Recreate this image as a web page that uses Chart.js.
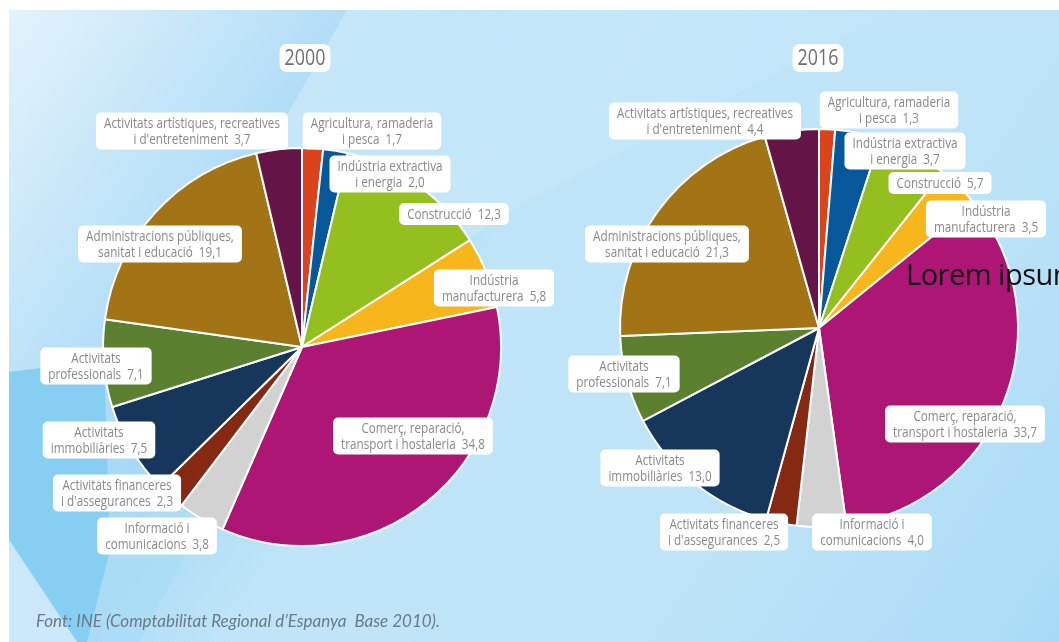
<!DOCTYPE html>
<html>
<head>
<meta charset="utf-8">
<script src="https://cdn.jsdelivr.net/npm/chart.js@4.4.1/dist/chart.umd.min.js"></script>
<style>
  html, body { margin: 0; padding: 0; }
  body { width: 1059px; height: 642px; overflow: hidden; background: #fff; position: relative; }
  #panel { position: absolute; left: 9px; top: 10px; right: 0; bottom: 0; overflow: hidden;
    background: linear-gradient(125deg, #e3f3fc 0%, #b4def7 22%, #a6d9f5 30%, #c0e5f8 45%, #bfe4f8 70%, #a9dbf6 100%); }
  .shape { position: absolute; left: 0; top: 0; width: 1050px; height: 632px; }
  #light1 { background: linear-gradient(110deg, #cdeafa 0%, #c4e6f9 60%, #bae2f8 100%); clip-path: polygon(338px 0, 888px 0, 520px 190px, 300px 330px, 150px 330px); opacity: .85; }
  #dark1 { background: #86cff2; clip-path: polygon(0 362px, 95px 350px, 101px 540px, 78px 632px, 68px 632px, 0 530px); }
  #light2 { background: #cbe9fa; clip-path: polygon(0 530px, 68px 632px, 0 632px); }
  #mid1 { background: #aadcf6; clip-path: polygon(101px 540px, 200px 500px, 130px 632px, 78px 632px); opacity: .8; }
  canvas { position: absolute; left: 0; top: 0; }
  #lorem { position: absolute; left: 906px; top: 254px; font-family: "Open Sans", sans-serif; font-size: 29px; line-height: normal; color: #111; white-space: nowrap; letter-spacing: -0.5px; }
  #source { position: absolute; left: 36px; top: 610px; font-family: Lato, sans-serif; font-style: italic; font-size: 17px; color: #6b7a86; white-space: nowrap; }
</style>
</head>
<body>
<div id="panel">
  <div class="shape" id="light1"></div>
  <div class="shape" id="dark1"></div>
  <div class="shape" id="mid1"></div>
  <div class="shape" id="light2"></div>
</div>
<canvas id="pie2000" width="1059" height="642"></canvas>
<canvas id="pie2016" width="1059" height="642"></canvas>
<div id="lorem">Lorem ipsum</div>
<div id="source">Font: INE (Comptabilitat Regional d’Espanya&nbsp; Base 2010).</div>
<script>
// sectors, in drawing order (clockwise from 12 o'clock)
const categories = [
    'Agricultura, ramaderia i pesca', 'Indústria extractiva i energia', 'Construcció',
    'Indústria manufacturera', 'Comerç, reparació, transport i hostaleria',
    'Informació i comunicacions', 'Activitats financeres i d\'assegurances',
    'Activitats immobiliàries', 'Activitats professionals',
    'Administracions públiques, sanitat i educació', 'Activitats artístiques, recreatives i d\'entreteniment'
];
// how each label breaks into lines (value goes after the last line)
const labelLines = [
    ['Agricultura, ramaderia', 'i pesca'], ['Indústria extractiva', 'i energia'], ['Construcció'],
    ['Indústria', 'manufacturera'], ['Comerç, reparació,', 'transport i hostaleria'],
    ['Informació i', 'comunicacions'], ['Activitats financeres', 'i d\'assegurances'],
    ['Activitats', 'immobiliàries'], ['Activitats', 'professionals'],
    ['Administracions públiques,', 'sanitat i educació'], ['Activitats artístiques, recreatives', 'i d\'entreteniment']
];
const values2000 = [1.7, 2.0, 12.3, 5.8, 34.8, 3.8, 2.3, 7.5, 7.1, 19.1, 3.7];
const values2016 = [1.3, 3.7, 5.7, 3.5, 33.7, 4.0, 2.5, 13.0, 7.1, 21.3, 4.4];
const sliceColors = ['#d9441c', '#07579b', '#93c01f', '#f8b61d', '#ad1675', '#d2d2d2',
    '#852912', '#16365b', '#5a8030', '#a27415', '#641446'];

// label box centres, relative to pie centre (layout only)
const labelPos2000 = [[70, -216], [88, -173], [152, -133], [192, -59], [111, 89],
    [-145, 189], [-185, 146], [-203, 93], [-206, 19], [-142, -103], [-110, -216]];
const labelPos2016 = [[70, -218], [86, -177], [121, -145], [167, -109], [146, 96],
    [53, 204], [-95, 204], [-159, 140], [-195, 46], [-152, -84], [-114, -207]];

const fmt = v => v.toFixed(1).replace('.', ',');
const SQUEEZE = 0.78; // condensed look
const LABEL_FONT = '15px "Open Sans", sans-serif';

const roundBox = (ctx, x, y, w, h, r) => {
    ctx.beginPath();
    ctx.moveTo(x + r, y);
    ctx.arcTo(x + w, y, x + w, y + h, r);
    ctx.arcTo(x + w, y + h, x, y + h, r);
    ctx.arcTo(x, y + h, x, y, r);
    ctx.arcTo(x, y, x + w, y, r);
    ctx.closePath();
    ctx.fill();
};

const narrowText = (ctx, text, x, y, sx) => {
    ctx.save();
    ctx.translate(x, y);
    ctx.scale(sx, 1);
    ctx.fillText(text, 0, 0);
    ctx.restore();
};

// white boxes with labels + year title
const labelPlugin = {
    id: 'boxLabels',
    afterDraw(chart, args, opts) {
        const ctx = chart.ctx;
        const arc = chart.getDatasetMeta(0).data[0];
        const cx = arc.x, cy = arc.y;
        const values = chart.data.datasets[0].data;
        ctx.save();
        ctx.textAlign = 'center';
        ctx.textBaseline = 'middle';

        // title
        ctx.font = '21px "Open Sans", sans-serif';
        const tw = ctx.measureText(opts.title).width * 0.85 + 10;
        ctx.fillStyle = '#fff';
        roundBox(ctx, cx + opts.titleDx - tw / 2, cy + opts.titleDy - 14, tw, 28, 7);
        ctx.fillStyle = '#6f6f6f';
        narrowText(ctx, opts.title, cx + opts.titleDx, cy + opts.titleDy + 1, 0.85);

        ctx.font = LABEL_FONT;
        values.forEach((v, i) => {
            const lines = labelLines[i].slice();
            lines[lines.length - 1] += '  ' + fmt(v);
            const [dx, dy] = opts.pos[i];
            const w = Math.max(...lines.map(l => ctx.measureText(l).width)) * SQUEEZE + 16;
            const h = lines.length === 1 ? 22 : 37;
            const x = cx + dx, y = cy + dy;
            ctx.fillStyle = '#fff';
            roundBox(ctx, x - w / 2, y - h / 2, w, h, 5);
            ctx.fillStyle = '#898989';
            lines.forEach((l, k) => {
                narrowText(ctx, l, x, y + (k - (lines.length - 1) / 2) * 16 + 1, SQUEEZE);
            });
        });
        ctx.restore();
    }
};

const makePie = (id, values, padding, radius, title, titleDx, titleDy, pos) => {
    return new Chart(document.getElementById(id), {
        type: 'pie',
        data: {
            labels: categories,
            datasets: [{
                data: values,
                backgroundColor: sliceColors,
                borderColor: '#ffffff',
                borderWidth: 2,
                radius: radius
            }]
        },
        options: {
            responsive: false,
            animation: false,
            layout: { padding: padding },
            plugins: {
                legend: { display: false },
                tooltip: { enabled: false },
                boxLabels: { title: title, titleDx: titleDx, titleDy: titleDy, pos: pos }
            }
        },
        plugins: [labelPlugin]
    });
};

makePie('pie2000', values2000, { left: 102, right: 557, top: 148, bottom: 96 }, 199, '2000', 3, -289, labelPos2000);
makePie('pie2016', values2016, { left: 620, right: 41, top: 129, bottom: 115 }, 199, '2016', -1, -270, labelPos2016);
</script>
</body>
</html>
